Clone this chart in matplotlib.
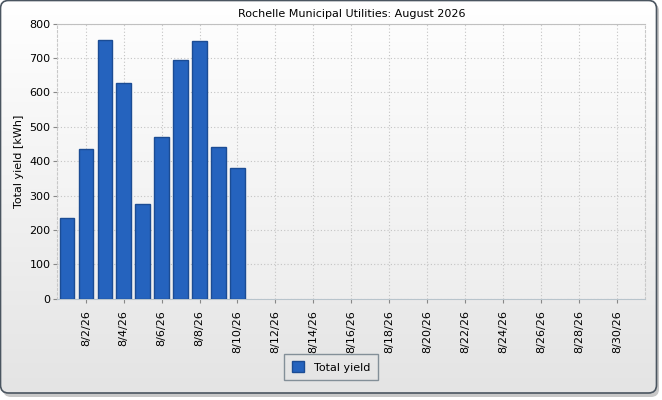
import matplotlib
matplotlib.use("Agg")
import matplotlib.pyplot as plt
import numpy as np
from matplotlib.patches import FancyBboxPatch, Patch

days = list(range(1, 11))
yields = [234, 434, 751, 626, 274, 469, 693, 748, 440, 379]
tick_days = list(range(2, 31, 2))
tick_labels = [f"8/{d}/26" for d in tick_days]
title = "Rochelle Municipal Utilities: August 2026"
ylabel = "Total yield [kWh]"
series_name = "Total yield"

plt.rcParams['font.family'] = ['DejaVu Sans']
W, H = 662, 400
fig = plt.figure(figsize=(W/100, H/100), dpi=100)
fig.patch.set_facecolor("white")

# background axes
bg = fig.add_axes([0, 0, 1, 1], zorder=-10)
bg.set_xlim(0, W); bg.set_ylim(H, 0); bg.axis("off")
# shadow
bg.add_patch(FancyBboxPatch((3, 3), W-6, H-6, boxstyle="round,pad=0,rounding_size=8",
                            facecolor="#c8c8c8", edgecolor="none"))
grad = np.linspace(0, 1, 256).reshape(-1, 1)
cmap = matplotlib.colors.LinearSegmentedColormap.from_list("g", ["#ffffff", "#e4e4e4"])
im = bg.imshow(grad, cmap=cmap, extent=[0.5, W-5, H-7, 0.5], aspect="auto", zorder=1)
box = FancyBboxPatch((0.5, 0.5), W-6, H-7.5, boxstyle="round,pad=0,rounding_size=8",
                     facecolor="none", edgecolor="#4a5560", linewidth=1.2, zorder=3)
bg.add_patch(box)
im.set_clip_path(box)

ax = fig.add_axes([57.3/W, 1-298.7/H, 588/W, 275.2/H])
ax.patch.set_alpha(0)
# plot gradient
ax.imshow(np.linspace(0, 1, 256).reshape(-1, 1),
          cmap=matplotlib.colors.LinearSegmentedColormap.from_list("p", ["#fdfdfd", "#eeeeee"]),
          extent=[0.5, 31.5, 0, 800], aspect="auto", zorder=0)

ax.bar(days, yields, width=0.76, color="#2563be", edgecolor="#1b4c94", linewidth=1, zorder=3)
ax.set_xlim(0.5, 31.5)
ax.set_ylim(0, 800)
ax.set_yticks(range(0, 801, 100))
ax.set_xticks(tick_days)
ax.set_xticklabels(tick_labels, rotation=90, fontsize=8)
ax.tick_params(axis="y", labelsize=8, length=3, color="#888888", pad=2)
ax.tick_params(axis="x", length=3, color="#888888", pad=5)
ax.grid(True, color="#c4c4c4", linestyle=(0, (1, 2)), linewidth=0.8, zorder=1)
for s in ["top"]:
    ax.spines[s].set_color("#c0c0c0")
ax.spines["bottom"].set_color("#b8c4cc")
ax.spines["left"].set_color("#c8c8c8"); ax.spines["left"].set_linestyle((0, (2, 2)))
ax.spines["right"].set_color("#c8c8c8"); ax.spines["right"].set_linestyle((0, (2, 2)))
ax.set_title(title, fontsize=8, pad=5)
ax.set_ylabel(ylabel, fontsize=8, labelpad=4)

leg = fig.legend(handles=[Patch(facecolor="#2563be", edgecolor="#1b4c94", label=series_name)],
                 loc="center", bbox_to_anchor=(331/W, 1-367/H), fontsize=8, frameon=True,
                 fancybox=False, handlelength=1.1, handleheight=1.1, borderpad=0.7, handletextpad=0.9)
leg.get_frame().set_edgecolor("#6b7a85")
leg.get_frame().set_facecolor("none")

fig.savefig("out.png", dpi=100)
